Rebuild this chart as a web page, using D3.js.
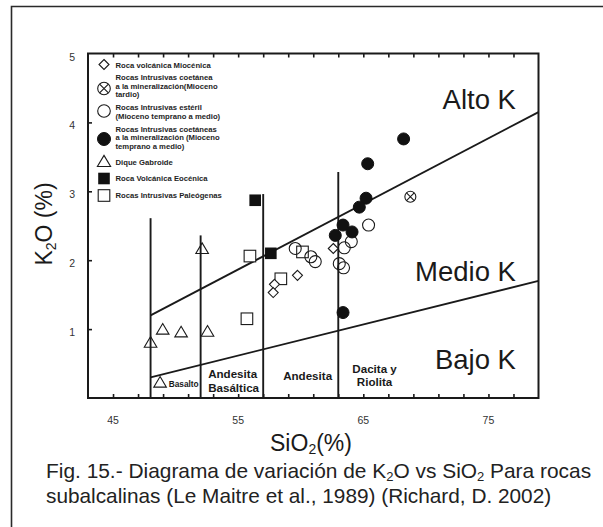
<!DOCTYPE html>
<html>
<head>
<meta charset="utf-8">
<script src="https://cdn.jsdelivr.net/npm/d3@7"></script>
<style>
  html, body { margin: 0; padding: 0; background: #fff; }
  svg { display: block; }
  text { font-family: "Liberation Sans", Arial, sans-serif; }
</style>
</head>
<body>
<svg id="chart" width="603" height="527"></svg>
<script>
// SiO2 (%) , K2O (%) for each rock group
const volcMioceno      = [[57.9, 1.65], [57.8, 1.53], [59.74, 1.78], [62.6, 2.17]];
const intrusTardio     = [[68.76, 2.92]];
const intrusEsteril    = [[59.56, 2.17], [60.81, 2.05], [61.16, 1.98], [63.08, 1.95],
                          [63.42, 1.89], [63.48, 2.18], [64.04, 2.27], [65.42, 2.51]];
const intrusCoetaneas  = [[68.22, 3.76], [65.35, 3.40], [65.22, 2.90], [64.68, 2.77],
                          [63.38, 2.51], [64.1, 2.41], [62.76, 2.36], [63.38, 1.24]];
const diqueGabroide    = [[48.0, 0.80], [48.97, 0.99], [50.44, 0.95], [52.55, 0.96],
                          [52.12, 2.16], [48.76, 0.22]];
const volcEoceno       = [[56.36, 2.87], [57.61, 2.10]];
const intrusPaleogenas = [[55.94, 2.06], [55.7, 1.15], [60.14, 2.12], [58.41, 1.73]];

// Le Maitre et al. (1989) K-series boundaries
const lowMediumK  = [[48, 0.3], [79, 1.70]];
const mediumHighK = [[48, 1.2], [79, 4.15]];
// SiO2 divisions and the K2O height each one reaches
const divisionSiO2 = [48, 52, 57, 63];
const divisionTop  = [2.61, 2.36, 2.96, 3.28];

const xTickValues = d3.range(45, 78, 2);
const xTickLabels = ["45", "55", "65", "75"];
const yTickValues = [1, 2, 3, 4, 5];

const legendLabels = [
  ["Roca volcánica Miocénica"],
  ["Rocas Intrusivas coetánea", "a la mineralización(Mioceno", "tardio)"],
  ["Rocas Intrusivas estéril", "(Mioceno temprano a medio)"],
  ["Rocas Intrusivas coetáneas", "a la mineralización (Mioceno", "temprano a medio)"],
  ["Dique Gabroide"],
  ["Roca Volcánica Eocénica"],
  ["Rocas Intrusivas Paleógenas"]
];

const svg = d3.select("#chart");
const W = 603, H = 527;
svg.append("rect").attr("width", W).attr("height", H).attr("fill", "#fff");

// outer figure frame
svg.append("path")
  .attr("d", `M11.5,${H} L11.5,6.5 L${W},6.5`)
  .attr("fill", "none").attr("stroke", "#2a2a2a").attr("stroke-width", 1.6);

const plot = { left: 88, right: 538.5, top: 53.5, bottom: 398 };
const x = d3.scaleLinear().domain([43, 79]).range([plot.left, plot.right]);
const y = d3.scaleLinear().domain([0, 5]).range([plot.bottom, plot.top]);

const ink = "#1a1a1a";
const g = svg.append("g");

// ticks (inside the frame)
const bottomAxis = d3.axisBottom(x).tickValues(xTickValues).tickSizeInner(-4).tickSizeOuter(0).tickFormat("");
const topAxis = d3.axisTop(x).tickValues(xTickValues).tickSizeInner(-4).tickSizeOuter(0).tickFormat("");
const leftAxis = d3.axisLeft(y).tickValues([1, 2, 3, 4]).tickSizeInner(-4).tickSizeOuter(0).tickFormat("");
[[bottomAxis, `translate(0,${plot.bottom})`], [topAxis, `translate(0,${plot.top})`],
 [leftAxis, `translate(${plot.left},0)`]].forEach(([ax, tr]) => {
  const a = g.append("g").attr("transform", tr).call(ax);
  a.select(".domain").remove();
  a.selectAll("line").attr("stroke", ink).attr("stroke-width", 1.6);
});

// tick labels
g.append("g").selectAll("text").data(xTickLabels).join("text")
  .attr("x", d => x(+d)).attr("y", plot.bottom + 26)
  .attr("text-anchor", "middle").attr("font-size", 10.5).attr("fill", "#333")
  .text(d => d);
g.append("g").selectAll("text").data(yTickValues).join("text")
  .attr("x", plot.left - 13).attr("y", d => y(d) + 7)
  .attr("text-anchor", "end").attr("font-size", 10.5).attr("fill", "#333")
  .text(d => d);

// K-series boundary lines
const line = d3.line().x(d => x(d[0])).y(d => y(d[1]));
[lowMediumK, mediumHighK].forEach(seg => {
  g.append("path").attr("d", line(seg)).attr("fill", "none")
    .attr("stroke", ink).attr("stroke-width", 1.9);
});
// SiO2 divisions
g.append("g").selectAll("line").data(divisionSiO2).join("line")
  .attr("x1", d => x(d)).attr("x2", d => x(d))
  .attr("y1", y(0)).attr("y2", (d, i) => y(divisionTop[i]))
  .attr("stroke", ink).attr("stroke-width", 1.9);

// plot frame
g.append("rect")
  .attr("x", plot.left).attr("y", plot.top)
  .attr("width", plot.right - plot.left).attr("height", plot.bottom - plot.top)
  .attr("fill", "none").attr("stroke", ink).attr("stroke-width", 2);

// region names
const regionText = (lines, sx, k, size, anchor, lh) => {
  const t = g.append("text").attr("font-size", size).attr("font-weight", "bold")
    .attr("fill", ink).attr("text-anchor", anchor);
  lines.forEach((s, i) => t.append("tspan").attr("x", x(sx)).attr("y", y(k) + i * lh).text(s));
};
regionText(["Basalto"], 49.45, 0.16, 8.3, "start", 0);
regionText(["Andesita", "Basáltica"], 52.6, 0.285, 11.6, "start", 13.4);
regionText(["Andesita"], 60.55, 0.255, 11.6, "middle", 0);
regionText(["Dacita y", "Riolita"], 65.9, 0.36, 11.6, "middle", 12.6);

// K-series names
const kName = (s, sx, k) => g.append("text").attr("x", x(sx)).attr("y", y(k))
  .attr("font-size", 27.5).attr("fill", ink).attr("text-anchor", "end").text(s);
kName("Alto K", 77.2, 4.2);
kName("Medio K", 77.2, 1.70);
kName("Bajo K", 77.2, 0.42);

// symbol painters
const symbols = {
  diamond: (sel, s) => sel.append("path").attr("d", `M0,${-s}L${s},0L0,${s}L${-s},0Z`)
    .attr("fill", "#fff").attr("stroke", ink).attr("stroke-width", 1.1),
  cross: (sel, s) => {
    sel.append("circle").attr("r", s).attr("fill", "#fff").attr("stroke", ink).attr("stroke-width", 1.1);
    const a = s * 0.70;
    sel.append("path").attr("d", `M${-a},${-a}L${a},${a}M${-a},${a}L${a},${-a}`)
      .attr("stroke", ink).attr("stroke-width", 1.1);
  },
  circle: (sel, s) => sel.append("circle").attr("r", s)
    .attr("fill", "none").attr("stroke", ink).attr("stroke-width", 1.1),
  disc: (sel, s) => sel.append("circle").attr("r", s).attr("fill", "#111").attr("stroke", "#111"),
  triangle: (sel, s) => sel.append("path")
    .attr("d", `M0,${-s * 1.05}L${s * 1.05},${s * 0.72}L${-s * 1.05},${s * 0.72}Z`)
    .attr("fill", "none").attr("stroke", ink).attr("stroke-width", 1.1),
  square: (sel, s) => sel.append("rect").attr("x", -s).attr("y", -s).attr("width", 2 * s).attr("height", 2 * s)
    .attr("fill", "#111"),
  openSquare: (sel, s) => sel.append("rect").attr("x", -s).attr("y", -s).attr("width", 2 * s).attr("height", 2 * s)
    .attr("fill", "#fff").attr("stroke", ink).attr("stroke-width", 1.1)
};

const groups = [
  { data: volcMioceno, sym: "diamond", size: 5 },
  { data: intrusTardio, sym: "cross", size: 5.5 },
  { data: intrusEsteril, sym: "circle", size: 6 },
  { data: intrusCoetaneas, sym: "disc", size: 6 },
  { data: diqueGabroide, sym: "triangle", size: 6 },
  { data: volcEoceno, sym: "square", size: 5.8 },
  { data: intrusPaleogenas, sym: "openSquare", size: 5.8 }
];

// points: open symbols first so filled ones sit on top in the cluster
const drawOrder = [6, 0, 2, 4, 1, 5, 3];
drawOrder.forEach(i => {
  const gr = groups[i];
  g.append("g").selectAll("g").data(gr.data).join("g")
    .attr("transform", d => `translate(${x(d[0])},${y(d[1])})`)
    .each(function () { symbols[gr.sym](d3.select(this), gr.size); });
});

// legend
const legendStarts = [67.5, 80, 110, 131.7, 165.3, 181.3, 198];
const legendSymbolY = [64.5, 88.5, 111, 139, 162, 178.5, 195.5];
const legendSymbolSize = [5, 6.3, 6.3, 6.5, 6.3, 5.8, 5.8];
const leg = g.append("g");
legendLabels.forEach((lines, i) => {
  const sg = leg.append("g").attr("transform", `translate(104,${legendSymbolY[i]})`);
  symbols[groups[i].sym](sg, legendSymbolSize[i]);
  const t = leg.append("text").attr("font-size", 7.7).attr("font-weight", "bold").attr("fill", "#1e1e1e");
  lines.forEach((s, j) => t.append("tspan").attr("x", 115.5).attr("y", legendStarts[i] + j * 8.7).text(s));
});

// axis titles
const yt = svg.append("text")
  .attr("transform", `translate(52,224) rotate(-90)`)
  .attr("text-anchor", "middle").attr("font-size", 23).attr("fill", ink);
yt.append("tspan").text("K");
yt.append("tspan").attr("font-size", 14).attr("dy", 4).text("2");
yt.append("tspan").attr("dy", -4).text("O (%)");

const xt = svg.append("text").attr("x", 311).attr("y", 451)
  .attr("text-anchor", "middle").attr("font-size", 23).attr("fill", ink);
xt.append("tspan").text("SiO");
xt.append("tspan").attr("font-size", 14).attr("dy", 3).text("2");
xt.append("tspan").attr("dy", -3).text("(%)");

// caption
const cap1 = svg.append("text").attr("x", 46).attr("y", 478).attr("font-size", 20.9).attr("fill", "#222");
cap1.append("tspan").text("Fig. 15.- Diagrama de variación de K");
cap1.append("tspan").attr("font-size", 13).attr("dy", 3).text("2");
cap1.append("tspan").attr("dy", -3).text("O vs SiO");
cap1.append("tspan").attr("font-size", 13).attr("dy", 3).text("2");
cap1.append("tspan").attr("dy", -3).text(" Para rocas");
svg.append("text").attr("x", 46).attr("y", 503).attr("font-size", 20.8).attr("fill", "#222")
  .text("subalcalinas (Le Maitre et al., 1989) (Richard, D. 2002)");
</script>
</body>
</html>
